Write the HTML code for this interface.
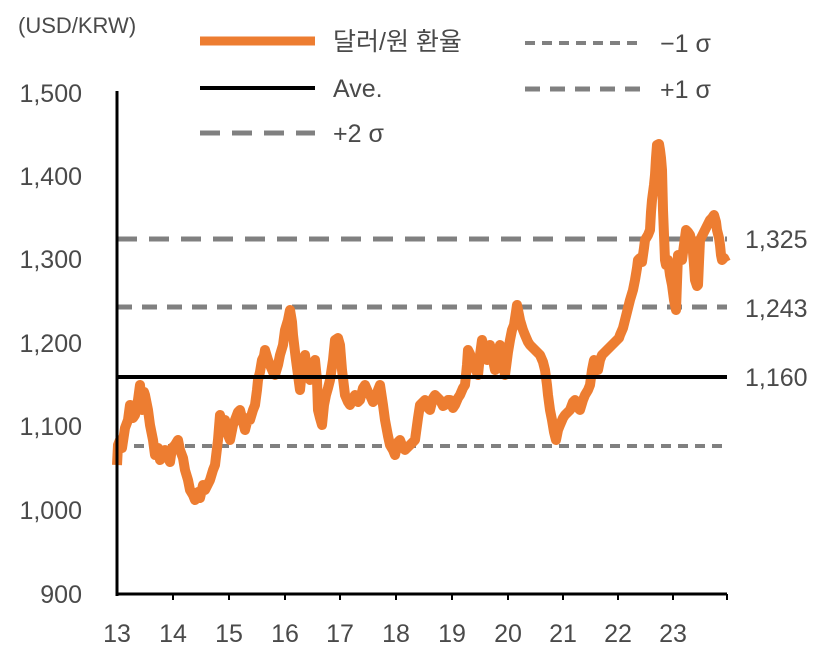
<!DOCTYPE html>
<html><head><meta charset="utf-8"><style>
body{margin:0;background:#fff;}
svg text{font-family:"Liberation Sans","Noto Sans CJK KR",sans-serif;fill:#4a4a4a;}
</style></head><body>
<svg width="821" height="653" viewBox="0 0 821 653" xmlns="http://www.w3.org/2000/svg">
<text x="18" y="33" font-size="22">(USD/KRW)</text>
<g font-size="25" text-anchor="end">
<text x="82" y="102">1,500</text>
<text x="82" y="185">1,400</text>
<text x="82" y="268">1,300</text>
<text x="82" y="352">1,200</text>
<text x="82" y="435">1,100</text>
<text x="82" y="519">1,000</text>
<text x="82" y="603">900</text>
</g>
<g font-size="25" text-anchor="middle">
<text x="117" y="642">13</text><text x="173" y="642">14</text><text x="229" y="642">15</text>
<text x="285" y="642">16</text><text x="340" y="642">17</text><text x="396" y="642">18</text>
<text x="452" y="642">19</text><text x="508" y="642">20</text><text x="563" y="642">21</text>
<text x="618" y="642">22</text><text x="673" y="642">23</text>
</g>
<g font-size="25">
<text x="745" y="248">1,325</text>
<text x="745" y="317">1,243</text>
<text x="745" y="386">1,160</text>
</g>
<line x1="117" y1="239" x2="727" y2="239" stroke="#808080" stroke-width="5" stroke-dasharray="20 12"/>
<line x1="117" y1="307" x2="727" y2="307" stroke="#808080" stroke-width="5" stroke-dasharray="15 10"/>
<line x1="117" y1="446" x2="727" y2="446" stroke="#808080" stroke-width="4" stroke-dasharray="10 7"/>
<polyline fill="none" stroke="#ED7D31" stroke-width="10" stroke-linejoin="round" points="117,465 118,445 120,440 122,448 125,428 128,420 130,405 133,418 135,415 138,400 140,385 142,410 144,392 145,395 148,410 150,425 153,440 155,455 158,448 160,460 163,452 165,450 168,458 170,462 172,448 175,445 178,440 180,450 183,458 185,470 188,480 190,490 193,495 195,500 198,492 200,498 203,485 205,490 208,484 210,480 213,470 215,465 218,440 220,415 223,425 225,420 228,435 230,440 233,425 235,420 238,412 240,410 243,422 245,430 248,418 250,420 253,410 255,405 257,390 258,380 260,372 262,360 264,356 265,350 268,360 270,365 273,372 275,375 278,365 280,355 283,345 285,330 288,320 290,310 292,322 293,335 295,352 296,360 298,375 300,390 302,370 305,355 307,370 310,380 313,368 315,360 317,380 318,410 320,418 322,425 324,405 326,395 328,388 330,380 333,360 335,340 338,338 340,345 342,370 345,395 348,402 350,405 353,398 355,395 358,402 360,400 363,388 365,385 368,392 370,395 373,402 375,400 378,390 380,385 383,405 385,420 388,436 390,445 393,450 395,455 398,442 400,440 403,448 405,450 408,447 410,445 413,442 415,440 418,418 420,405 423,402 425,400 428,408 430,410 433,398 435,395 438,398 440,400 443,406 445,405 448,400 450,400 453,408 455,405 458,398 460,395 463,388 465,385 467,365 468,350 470,354 472,360 475,368 478,375 480,355 482,340 485,352 487,360 489,348 490,345 493,360 495,370 498,352 500,345 503,365 505,375 508,352 510,340 512,330 514,325 516,312 517,305 519,315 520,320 523,330 525,335 528,342 530,345 533,348 535,350 538,353 540,355 543,362 545,370 547,385 548,395 550,410 552,420 554,432 556,440 558,430 560,425 563,418 565,415 568,412 570,410 573,402 575,400 578,408 580,410 583,400 585,395 588,390 590,385 592,370 594,360 596,368 598,370 600,360 602,355 605,352 607,350 610,347 612,345 615,342 617,340 619,338 620,335 623,328 625,320 628,308 630,300 633,290 635,280 637,268 638,260 640,258 642,262 644,248 645,240 648,235 650,230 651,212 652,200 654,185 655,175 656,158 657,145 659,144 660,150 661,158 662,170 663,210 665,260 666,265 668,260 670,275 672,285 674,300 676,310 677,282 678,255 680,258 682,260 684,245 686,230 688,232 690,235 691,240 692,240 694,265 695,280 697,286 698,285 699,262 700,240 703,234 705,230 708,224 710,220 712,218 714,215 716,222 717,230 719,238 720,245 721,255 722,260 724,258 726,262"/>
<line x1="117" y1="377" x2="727" y2="377" stroke="#000" stroke-width="4"/>
<line x1="117" y1="91" x2="117" y2="596" stroke="#000" stroke-width="3"/>
<line x1="117" y1="594" x2="727" y2="594" stroke="#000" stroke-width="3"/>
<g stroke="#000" stroke-width="2">
<line x1="173" y1="594" x2="173" y2="600"/><line x1="229" y1="594" x2="229" y2="600"/><line x1="285" y1="594" x2="285" y2="600"/><line x1="340" y1="594" x2="340" y2="600"/><line x1="396" y1="594" x2="396" y2="600"/><line x1="452" y1="594" x2="452" y2="600"/><line x1="508" y1="594" x2="508" y2="600"/><line x1="563" y1="594" x2="563" y2="600"/><line x1="618" y1="594" x2="618" y2="600"/><line x1="673" y1="594" x2="673" y2="600"/><line x1="727" y1="594" x2="727" y2="600"/>
</g>
<line x1="200" y1="41" x2="315" y2="41" stroke="#ED7D31" stroke-width="9"/>
<text x="333" y="50" font-size="25">달러/원 환율</text>
<line x1="200" y1="88" x2="315" y2="88" stroke="#000" stroke-width="4"/>
<text x="333" y="97" font-size="25">Ave.</text>
<line x1="200" y1="133" x2="315" y2="133" stroke="#808080" stroke-width="5" stroke-dasharray="20 12"/>
<text x="333" y="142" font-size="25">+2 σ</text>
<line x1="525" y1="43" x2="640" y2="43" stroke="#808080" stroke-width="4" stroke-dasharray="10 7"/>
<text x="660" y="52" font-size="25">−1 σ</text>
<line x1="525" y1="89" x2="640" y2="89" stroke="#808080" stroke-width="5" stroke-dasharray="15 10"/>
<text x="660" y="98" font-size="25">+1 σ</text>
</svg>
</body></html>
